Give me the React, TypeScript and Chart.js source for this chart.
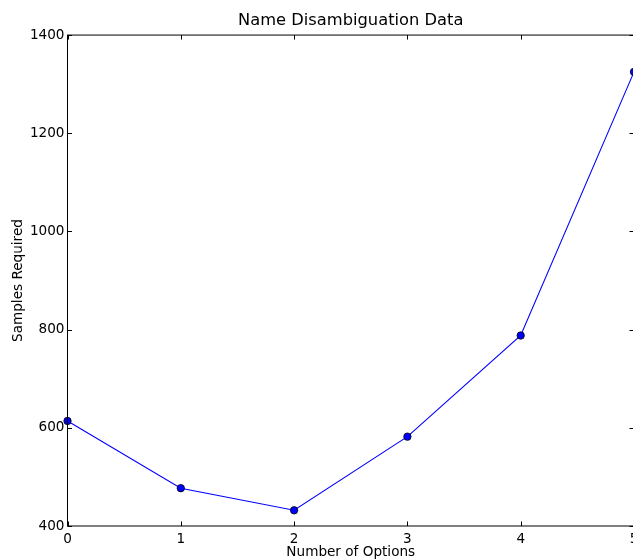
import React, { useEffect, useRef } from "react";
import { Chart, registerables } from "chart.js";

Chart.register(...registerables);

const titleText = "Name Disambiguation Data";
const xLabel = "Number of Options";
const yLabel = "Samples Required";
const options = [0, 1, 2, 3, 4, 5];
const samples = [614, 477, 432, 582, 788, 1325];
const yTicks = [400, 600, 800, 1000, 1200, 1400];
const xTicks = [0, 1, 2, 3, 4, 5];

const FONT = "'DejaVu Sans', sans-serif";

const framePlugin = {
  id: "frame",
  afterDraw(chart: any) {
    const { ctx, chartArea } = chart;
    const { left, right, top, bottom } = chartArea;
    const xs = chart.scales.x;
    const ys = chart.scales.y;
    const tl = 4.5;
    ctx.save();
    ctx.strokeStyle = "#000";
    ctx.lineWidth = 1;
    ctx.beginPath();
    xTicks.forEach((v) => {
      const px = Math.round(xs.getPixelForValue(v)) + 0.5;
      ctx.moveTo(px, bottom);
      ctx.lineTo(px, bottom - tl);
      ctx.moveTo(px, top);
      ctx.lineTo(px, top + tl);
    });
    yTicks.forEach((v) => {
      const py = Math.round(ys.getPixelForValue(v)) + 0.5;
      ctx.moveTo(left, py);
      ctx.lineTo(left + tl, py);
      ctx.moveTo(right, py);
      ctx.lineTo(right - tl, py);
    });
    ctx.stroke();
    ctx.strokeRect(left, top, right - left, bottom - top);
    ctx.restore();
  },
};

export default function App() {
  const ref = useRef<HTMLCanvasElement>(null);
  useEffect(() => {
    if (!ref.current) return;
    const chart = new Chart(ref.current, {
      type: "line",
      data: {
        datasets: [
          {
            data: options.map((x, i) => ({ x, y: samples[i] })),
            borderColor: "#0000ff",
            borderWidth: 1.1,
            backgroundColor: "#0000ff",
            pointBackgroundColor: "#0000ff",
            pointBorderColor: "#000000",
            pointBorderWidth: 0.8,
            pointRadius: 3.7,
            tension: 0,
            clip: false as any,
          },
        ],
      },
      options: {
        responsive: false,
        animation: false,
        layout: { padding: { left: 0, right: 11, top: 0, bottom: 0 } },
        plugins: {
          legend: { display: false },
          tooltip: { enabled: false },
          title: {
            display: true,
            fullSize: false,
            text: titleText,
            color: "#000",
            font: { family: FONT, size: 16.3, weight: "normal", lineHeight: 1.2 },
            padding: { top: 11, bottom: 4.5 },
          },
        },
        scales: {
          x: {
            type: "linear",
            min: 0,
            max: 5,
            afterFit: (s: any) => {
              s.height = 33;
            },
            afterBuildTicks: (s: any) => {
              s.ticks = xTicks.map((v) => ({ value: v }));
            },
            grid: { display: false, drawTicks: false },
            border: { display: false },
            ticks: {
              color: "#000",
              padding: 5,
              maxRotation: 0,
              autoSkip: false,
              font: { family: FONT, size: 13.6 },
              callback: (v: any) => String(v),
            },
            title: {
              display: true,
              text: xLabel,
              color: "#000",
              font: { family: FONT, size: 13.6, lineHeight: 0.9 },
              padding: { top: 0, bottom: 0 },
            },
          },
          y: {
            type: "linear",
            min: 400,
            max: 1400,
            afterFit: (s: any) => {
              s.width = 67.5;
            },
            afterBuildTicks: (s: any) => {
              s.ticks = yTicks.map((v) => ({ value: v }));
            },
            grid: { display: false, drawTicks: false },
            border: { display: false },
            ticks: {
              color: "#000",
              padding: 3,
              autoSkip: false,
              font: { family: FONT, size: 13.6 },
              callback: (v: any) => String(v),
            },
            title: {
              display: true,
              text: yLabel,
              color: "#000",
              font: { family: FONT, size: 13.6, lineHeight: 1.2 },
              padding: { top: 10, bottom: 0 },
            },
          },
        },
      },
      plugins: [framePlugin],
    });
    return () => chart.destroy();
  }, []);
  return (
    <div
      style={{
        position: "fixed",
        left: 0,
        top: 0,
        width: 633,
        height: 559,
        overflow: "hidden",
        background: "#fff",
      }}
    >
      <canvas ref={ref} width={645} height={559} style={{ display: "block" }} />
    </div>
  );
}
